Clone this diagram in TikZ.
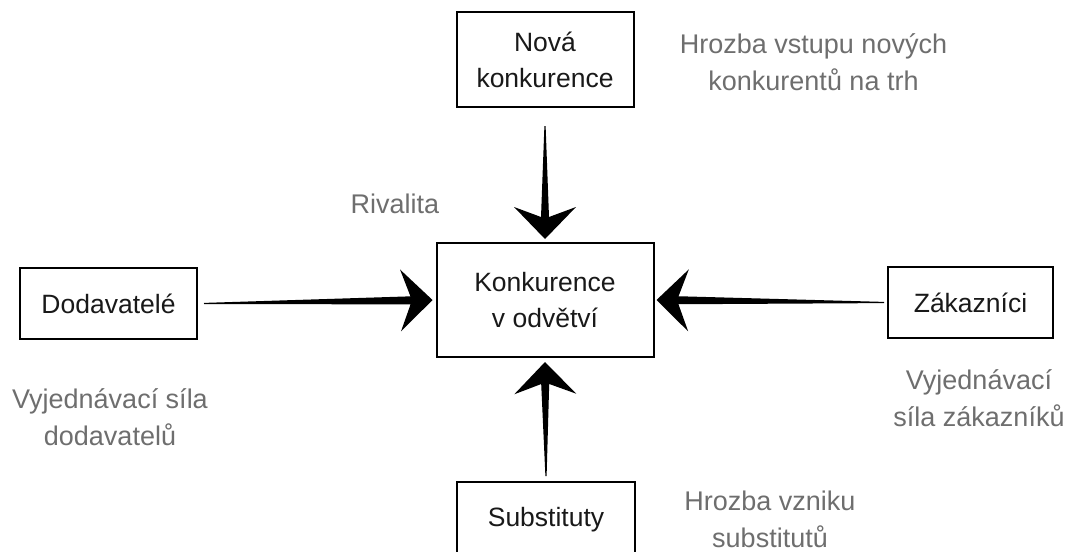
\documentclass[tikz,border=0pt]{standalone}
\usepackage{fontspec}
\setmainfont{Liberation Sans}
\usetikzlibrary{calc}
\definecolor{labelgray}{RGB}{110,110,110}
\definecolor{boxtext}{RGB}{25,25,25}

% tapered force arrow: thin at the start, widening into a swept head at the tip
\newcommand\forcearrow[2]{%
  \coordinate (fa-n) at ($(#2)!22pt!(#1)$);
  \coordinate (fa-w) at ($(#2)!32pt!(#1)$);
  \fill[black]
    ($(#1)!0.6pt!90:(#2)$) --
    ($(fa-n)!4pt!90:(#2)$) --
    ($(fa-w)!31pt!90:(#2)$) --
    (#2) --
    ($(fa-w)!31pt!-90:(#2)$) --
    ($(fa-n)!4pt!-90:(#2)$) --
    ($(#1)!0.6pt!-90:(#2)$) -- cycle;
}

\begin{document}
\begin{tikzpicture}[x=1pt,y=-1pt,
  force/.style={draw=black, line width=2pt, fill=white, text=boxtext,
    align=center, inner sep=0pt,
    font=\fontsize{26.5}{36}\selectfont},
  boxlabel/.style={text=boxtext, align=center, inner sep=0pt,
    font=\fontsize{26.5}{36}\selectfont},
  note/.style={text=labelgray, align=center, inner sep=0pt,
    font=\fontsize{27}{37}\selectfont}]
  \useasboundingbox (0,0) rectangle (1067,551);

  % boxes
  \node[force, minimum width=177pt, minimum height=95pt] (nova) at (545,59.5)
    {Nová\\konkurence};
  \node[force, minimum width=217pt, minimum height=114pt] (ctr) at (545,300)
    {Konkurence\\v odvětví};
  \node[force, minimum width=177pt, minimum height=71pt] (dod) at (108.5,303.5)
    {Dodavatelé};
  \node[force, minimum width=165pt, minimum height=71pt] (zak) at (970.5,302.5)
    {Zákazníci};
  % the lowest box runs past the lower edge
  \node[force, minimum width=178pt, minimum height=96pt] (sub) at (546,530) {};
  \node[boxlabel] (subt) at (546,520) {Substituty};

  % arrow ends
  \coordinate (t1s) at ([yshift=-18pt]nova.south);
  \coordinate (t1e) at ([yshift=3pt]ctr.north);
  \coordinate (l1s) at ([xshift=6pt]dod.east);
  \coordinate (l1e) at ([xshift=-3pt]ctr.west);
  \coordinate (r1s) at ([xshift=-3pt]zak.west);
  \coordinate (r1e) at ([xshift=2pt]ctr.east);
  \coordinate (b1s) at ([yshift=5pt]sub.north);
  \coordinate (b1e) at ([yshift=-4pt]ctr.south);

  \forcearrow{t1s}{t1e}
  \forcearrow{l1s}{l1e}
  \forcearrow{r1s}{r1e}
  \forcearrow{b1s}{b1e}

  % labels
  \node[note] (lnova) at (813.5,62) {Hrozba vstupu nových\\konkurentů na trh};
  \node[note] (lriv) at (395,204) {Rivalita};
  \node[note] (ldod) at (110,417) {Vyjednávací síla\\dodavatelů};
  \node[note] (lzak) at (979,398) {Vyjednávací\\síla zákazníků};
  \node[note] (lsub) at (770,519) {Hrozba vzniku\\substitutů};
\end{tikzpicture}
\end{document}
